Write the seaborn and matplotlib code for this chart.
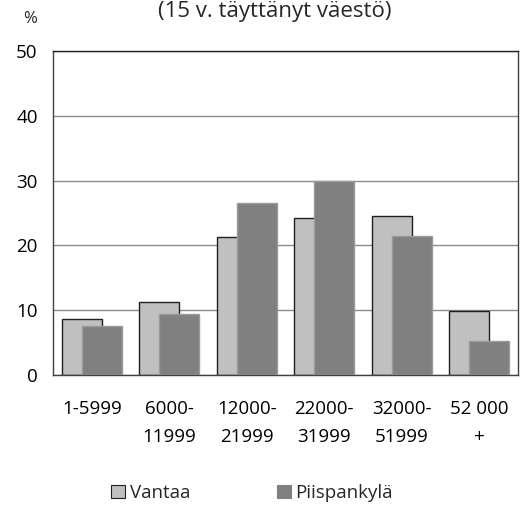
import pandas as pd
import matplotlib.pyplot as plt
import seaborn as sns
from matplotlib.patches import Patch

# Data
categories = ['1-5999', '6000-\n11999', '12000-\n21999', '22000-\n31999',
              '32000-\n51999', '52 000\n+']
vantaa = [8.6, 11.2, 21.3, 24.3, 24.6, 9.9]
piispankyla = [7.5, 9.4, 26.6, 30.0, 21.4, 5.2]
series_names = ['Vantaa', 'Piispankylä']

df = pd.DataFrame({'tulo': categories, 'Vantaa': vantaa, 'Piispankylä': piispankyla})

sns.set_style('white')
plt.rcParams['font.family'] = ['Open Sans', 'DejaVu Sans']

fig = plt.figure(figsize=(5.32, 5.07), dpi=100)
ax = fig.add_axes([0.0996, 0.2604, 0.8741, 0.639])

bar_w = 0.52
shift = 0.13

# Vantaa (behind)
sns.barplot(data=df, x='tulo', y='Vantaa', ax=ax, color='#c0c0c0', width=bar_w,
            edgecolor='#202020', linewidth=1.0, saturation=1, zorder=2)
n_v = len(ax.patches)
for p in ax.patches:
    p.set_x(p.get_x() - shift)

# Piispankylä (in front)
sns.barplot(data=df, x='tulo', y='Piispankylä', ax=ax, color='#808080', width=bar_w,
            edgecolor='#9a9a9a', linewidth=1.0, saturation=1, zorder=3)
for p in ax.patches[n_v:]:
    p.set_x(p.get_x() + shift)

ax.set_ylim(0, 50)
ax.set_xlim(-0.5, len(categories) - 0.5)
ax.set_yticks([0, 10, 20, 30, 40, 50])
ax.yaxis.grid(True, color='#8c8c8c', linewidth=1.0, zorder=0)
ax.set_axisbelow(True)
for s in ax.spines.values():
    s.set_visible(True)
    s.set_color('#404040')
    s.set_linewidth(1.0)
ax.spines['top'].set_color('#202020')

ax.set_xlabel('')
ax.set_ylabel('')
ax.tick_params(axis='both', length=0, labelsize=13.5, colors='black')
ax.tick_params(axis='x', pad=18)
ax.tick_params(axis='y', pad=11)
for lbl in ax.get_xticklabels():
    lbl.set_linespacing(1.75)

fig.text(275 / 532, 1 - 11 / 507, '(15 v. täyttänyt väestö)', ha='center', va='center', fontsize=16)
fig.text(30 / 532, 1 - 19 / 507, '%', ha='center', va='center', fontsize=12)

handles = [Patch(facecolor='#c0c0c0', edgecolor='#202020', linewidth=0.8),
           Patch(facecolor='#808080', edgecolor='#808080', linewidth=0.8)]
fig.legend(handles, series_names, loc='center', bbox_to_anchor=(252 / 532, 1 - 493 / 507),
           ncol=2, frameon=False, fontsize=13.5, handlelength=0.75, handleheight=0.75,
           handletextpad=0.25, columnspacing=4.6)

plt.savefig('out.png', dpi=100)
plt.close()
